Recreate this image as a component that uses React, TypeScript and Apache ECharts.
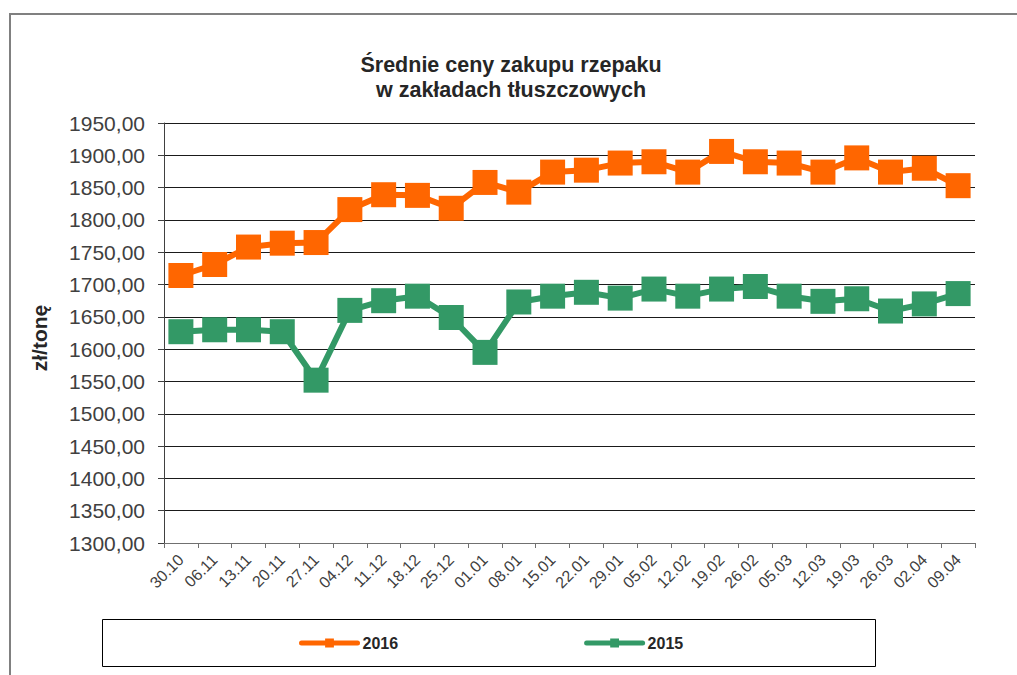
import React, { useEffect, useRef } from "react";
import * as echarts from "echarts";

const categories = [
  "30.10", "06.11", "13.11", "20.11", "27.11", "04.12", "11.12", "18.12",
  "25.12", "01.01", "08.01", "15.01", "22.01", "29.01", "05.02", "12.02",
  "19.02", "26.02", "05.03", "12.03", "19.03", "26.03", "02.04", "09.04",
];

const values2016 = [
  1714, 1731, 1758, 1764, 1765, 1816, 1839, 1838,
  1818, 1858, 1843, 1874, 1877, 1888, 1890, 1874,
  1906, 1890, 1888, 1874, 1896, 1874, 1880, 1853,
];

const values2015 = [
  1627, 1630, 1630, 1627, 1552, 1660, 1675, 1682,
  1649, 1595, 1673, 1682, 1688, 1679, 1693, 1682,
  1693, 1697, 1682, 1674, 1678, 1659, 1670, 1686,
];

const seriesNames = ["2016", "2015"];
const titleText = "Średnie ceny zakupu rzepaku\nw zakładach tłuszczowych";
const yAxisName = "zł/tonę";
const FONT = "'Liberation Sans', Arial, sans-serif";

export default function App() {
  const ref = useRef<HTMLDivElement>(null);
  useEffect(() => {
    if (!ref.current) return;
    const chart = echarts.init(ref.current, null, { renderer: "svg" });
    chart.setOption({
      animation: false,
      backgroundColor: "#ffffff",
      title: {
        text: titleText,
        left: 506,
        top: 47,
        textAlign: "center",
        textStyle: {
          fontFamily: FONT,
          fontSize: 21.5,
          fontWeight: "bold",
          lineHeight: 25,
          color: "#262626",
        },
      },
      graphic: [
        {
          type: "rect",
          shape: { x: 10, y: 14, width: 1100, height: 800 },
          style: { fill: "none", stroke: "#808080", lineWidth: 2 },
          silent: true,
          z: -1,
        },
        {
          type: "rect",
          shape: { x: 102.5, y: 619.5, width: 773, height: 47 },
          style: { fill: "none", stroke: "#000000", lineWidth: 1 },
          silent: true,
          z: -1,
        },
        {
          type: "text",
          x: 39,
          y: 338,
          rotation: Math.PI / 2,
          style: {
            text: yAxisName,
            fontFamily: FONT,
            fontSize: 21,
            fontWeight: "bold",
            fill: "#262626",
            align: "center",
            verticalAlign: "middle",
          },
        },
      ],
      legend: {
        data: seriesNames,
        left: 294,
        top: 630,
        itemGap: 186,
        itemWidth: 56,
        itemHeight: 11,
        lineStyle: { width: 5, cap: "round" },
        textStyle: {
          fontFamily: FONT,
          fontSize: 16,
          fontWeight: "bold",
          color: "#262626",
        },
      },
      grid: {
        left: 164,
        right: 42,
        top: 123,
        bottom: 132,
        containLabel: false,
      },
      xAxis: {
        type: "category",
        data: categories,
        boundaryGap: true,
        axisLine: { lineStyle: { color: "#707070", width: 1 } },
        axisTick: { show: true, alignWithLabel: false, length: 5, lineStyle: { color: "#707070" } },
        axisLabel: {
          rotate: 45,
          interval: 0,
          margin: 14,
          fontFamily: FONT,
          fontSize: 16,
          color: "#404040",
        },
      },
      yAxis: {
        type: "value",
        min: 1300,
        max: 1950,
        interval: 50,
        axisLine: { show: true, lineStyle: { color: "#404040", width: 1 } },
        axisTick: { show: true, length: 6, lineStyle: { color: "#404040" } },
        axisLabel: {
          margin: 19,
          fontFamily: FONT,
          fontSize: 21,
          color: "#404040",
          formatter: (v: number) => v.toFixed(2).replace(".", ","),
        },
        splitLine: { show: true, lineStyle: { color: "#1a1a1a", width: 1 } },
      },
      series: [
        {
          name: seriesNames[0],
          type: "line",
          data: values2016,
          symbol: "rect",
          symbolSize: 25,
          itemStyle: { color: "#FF6600" },
          lineStyle: { color: "#FF6600", width: 6 },
          z: 3,
        },
        {
          name: seriesNames[1],
          type: "line",
          data: values2015,
          symbol: "rect",
          symbolSize: 25,
          itemStyle: { color: "#339966" },
          lineStyle: { color: "#339966", width: 6 },
          z: 2,
        },
      ],
    });
    return () => chart.dispose();
  }, []);
  return (
    <div
      ref={ref}
      style={{ position: "fixed", left: 0, top: 0, width: 1017, height: 675 }}
    />
  );
}
